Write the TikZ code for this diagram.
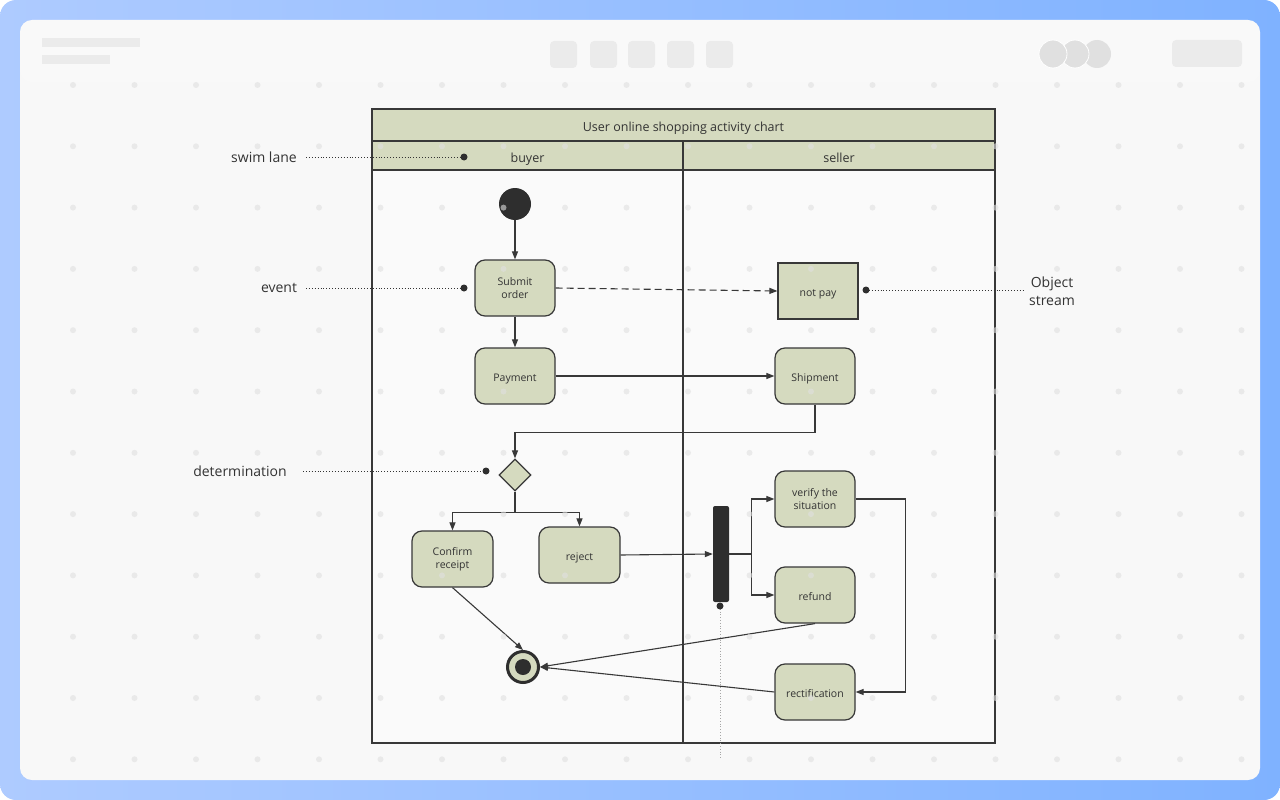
\documentclass[tikz,border=0pt]{standalone}
\usepackage{fontspec}
\setmainfont{Open Sans}
\usetikzlibrary{arrows.meta,shapes.geometric}
\definecolor{lanefill}{HTML}{D5DABF}
\definecolor{linec}{HTML}{383838}
\definecolor{darkc}{HTML}{2E2E2E}
\definecolor{textc}{HTML}{333333}
\definecolor{panel}{HTML}{F8F8F8}
\definecolor{skel}{HTML}{EBEBEB}
\definecolor{gridc}{HTML}{E0E0E0}
\definecolor{bluea}{HTML}{AECBFF}
\definecolor{blueb}{HTML}{7FB2FF}
\begin{document}
\begin{tikzpicture}[x=1pt,y=-1pt,
  act/.style={draw=linec, line width=1.2pt, fill=lanefill, rounded corners=10pt,
    minimum width=80pt, minimum height=56pt, inner sep=2pt, align=center,
    font=\fontsize{10.5}{13}\selectfont, text=textc},
  oneline/.style={text height=13pt, text depth=2.5pt},
  objbox/.style={draw=linec, line width=1.2pt, fill=lanefill,
    minimum width=80pt, minimum height=56pt, inner sep=2pt, align=center,
    font=\fontsize{10.5}{13}\selectfont, text=textc},
  lanehead/.style={draw=linec, line width=1.3pt, fill=lanefill, inner sep=0,
    font=\fontsize{12.5}{15}\selectfont, text=textc, text height=16.5pt, text depth=3pt},
  lanebody/.style={draw=linec, line width=1.3pt, fill=white, fill opacity=0.4, inner sep=0},
  conn/.style={draw=linec, line width=1.1pt, -{Triangle[length=8pt,width=6pt]}},
  lbl/.style={font=\fontsize{14}{17}\selectfont, text=textc, align=center, inner sep=0},
  note/.style={draw=textc, line width=0.9pt, dotted},
  skelbox/.style={fill=skel, rounded corners=4pt}
]
\useasboundingbox (0,0) rectangle (1280,800);
% background frame
\shade[left color=bluea, right color=blueb, rounded corners=16pt] (0,0) rectangle (1280,800);
\fill[panel, rounded corners=12pt] (20,20) rectangle (1260,780);
\fill[white, opacity=0.25, rounded corners=12pt] (20,20) rectangle (1260,82);
% header skeleton
\fill[skel] (42,38) rectangle (140,47);
\fill[skel] (42,55) rectangle (110,64);
\foreach \bx in {550,590,628,667,706} \fill[skelbox] (\bx,41) rectangle ++(27,27);
\fill[skel!90!gray] (1097,54) circle (14pt);
\fill[skel!90!gray, draw=white, line width=0.8pt] (1075,54) circle (14pt);
\fill[skel!90!gray, draw=white, line width=0.8pt] (1053,54) circle (14pt);
\fill[skelbox] (1172,40) rectangle (1242,67);

% swim lanes
\node[lanebody, minimum width=311pt, minimum height=573pt] (buyerlane) at (527.5,456.5) {};
\node[lanebody, minimum width=312pt, minimum height=573pt] (sellerlane) at (839,456.5) {};
\node[lanehead, minimum width=623pt, minimum height=32pt] (title) at (683.5,125) {User online shopping activity chart};
\node[lanehead, minimum width=311pt, minimum height=29pt] (buyer) at (527.5,155.5) {buyer};
\node[lanehead, minimum width=312pt, minimum height=29pt] (seller) at (839,155.5) {seller};

% nodes
\node[circle, fill=darkc, minimum size=32pt, inner sep=0] (start) at (515,204) {};
\node[act] (submit) at (515,288) {Submit\\order};
\node[act, oneline] (payment) at (515,376) {Payment};
\node[objbox, oneline] (notpay) at (818,291) {not pay};
\node[act, oneline] (shipment) at (815,376) {Shipment};
\node[diamond, draw=linec, line width=1.2pt, fill=lanefill, minimum width=32pt, minimum height=32pt, inner sep=0] (dia) at (515,475) {};
\node[act, minimum width=81pt] (confirm) at (452.5,559) {Confirm\\receipt};
\node[act, oneline, minimum width=81pt] (reject) at (579.5,555) {reject};
\node[rectangle, rounded corners=2pt, fill=darkc, minimum width=16pt, minimum height=96pt, inner sep=0] (bar) at (721,554) {};
\node[act] (verify) at (815,499) {verify the\\situation};
\node[act, oneline] (refund) at (815,595) {refund};
\node[act, oneline] (rectif) at (815,692) {rectification};
\node[circle, draw=darkc, line width=3pt, fill=lanefill, minimum size=31pt, inner sep=0] (end) at (523,667) {};
\node[circle, fill=darkc, minimum size=16pt, inner sep=0] (endin) at (end.center) {};

% connectors
\draw[conn] (start) -- (submit);
\draw[conn] (submit) -- (payment);
\draw[conn, dash pattern=on 7pt off 4pt] (submit.east) -- (notpay.west);
\draw[conn] (payment) -- (shipment);
\draw[conn] (shipment.south) -- ++(0,28) -| (dia.north);
\draw[conn] (dia.south) -- ++(0,21) -| (confirm.north);
\draw[conn] (dia.south) -- ++(0,21) -| (reject.north);
\draw[conn] (reject.east) -- (bar.west);
\draw[draw=linec, line width=2pt] (bar.east) -- ++(22,0) coordinate (fork);
\draw[conn] (fork) |- (verify.west);
\draw[conn] (fork) |- (refund.west);
\draw[conn] (verify.east) -- ++(50,0) |- (rectif.east);
\draw[conn] (refund.south) -- (end.east);
\draw[conn] (rectif.west) -- (end.east);
\draw[conn] (confirm.south) -- (end.north);

% annotations
\node[lbl] (swimlbl) at (264,157) {swim lane};
\coordinate (swimfrom) at (306,157);
\coordinate (swimdot) at (464,157);
\draw[note] (swimfrom) -- (swimdot);
\fill[darkc] (swimdot) circle (3.5pt);

\node[lbl] (eventlbl) at (279,288) {event};
\coordinate (eventfrom) at (306,288);
\coordinate (eventdot) at (464,288);
\draw[note] (eventfrom) -- (eventdot);
\fill[darkc] (eventdot) circle (3.5pt);

\node[lbl] (detlbl) at (240,471) {determination};
\coordinate (detfrom) at (303,471);
\coordinate (detdot) at (486,471);
\draw[note] (detfrom) -- (detdot);
\fill[darkc] (detdot) circle (3.5pt);

\node[lbl, font=\fontsize{14}{18}\selectfont] (objlbl) at (1052,291) {Object\\stream};
\coordinate (objdot) at (866,290);
\coordinate (objto) at (1023,290);
\draw[note] (objdot) -- (objto);
\fill[darkc] (objdot) circle (3.5pt);

\coordinate (bardot) at (720,606);
\coordinate (barto) at (720,758);
\draw[draw=gray!70, line width=0.8pt, dotted] (bardot) -- (barto);
\fill[darkc] (bardot) circle (3.5pt);

% dot grid
\foreach \i in {0,...,19}
  \foreach \j in {0,...,11}
    \fill[gridc, opacity=0.6] ({73+61.5*\i},{85+61.3*\j}) circle (3pt);
\end{tikzpicture}
\end{document}
